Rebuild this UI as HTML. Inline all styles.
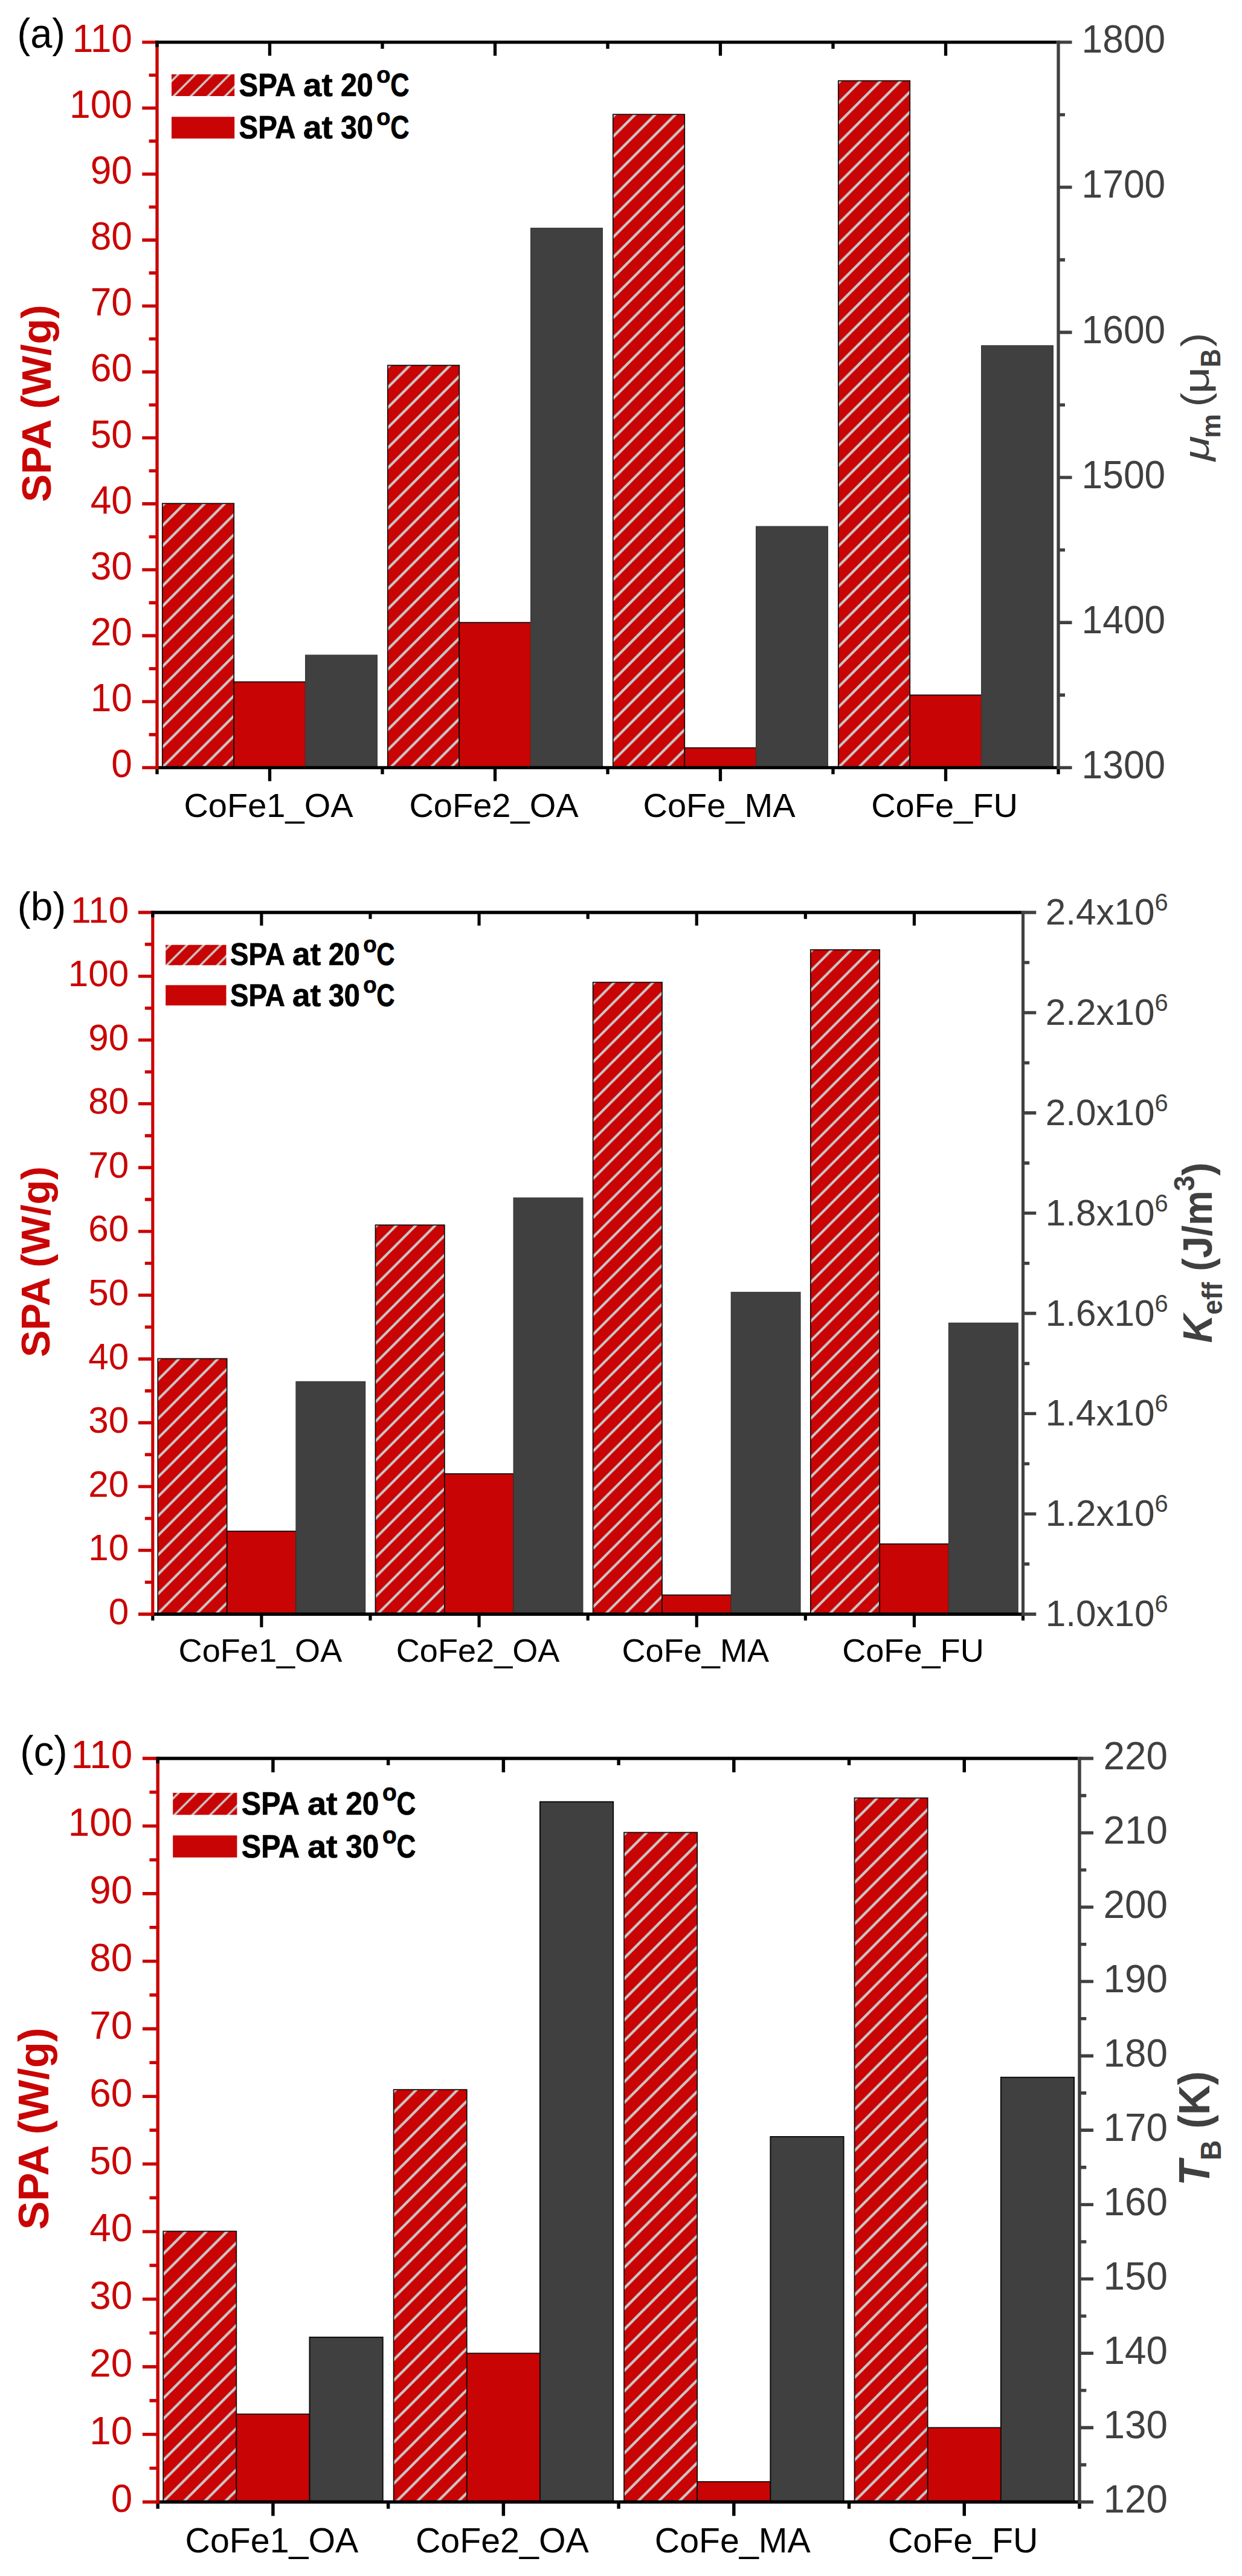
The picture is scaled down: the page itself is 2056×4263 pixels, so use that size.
<!DOCTYPE html>
<html lang="en"><head><meta charset="utf-8"><title>SPA bar charts</title><style>html,body{margin:0;padding:0;background:#fff}svg{display:block}</style></head><body>
<svg width="2056" height="4263" viewBox="0 0 2056 4263">
<rect width="2056" height="4263" fill="#fff"/>
<defs><pattern id="h1_0" patternUnits="userSpaceOnUse" x="5.58" y="0" width="33.33" height="33.33"><rect width="33.33" height="33.33" fill="#C90404"/><path d="M-33.33 33.33L33.33 -33.33M0 66.66L66.66 0M-16.66 49.99L49.99 -16.66" stroke="#C9C9C9" stroke-width="4.2" fill="none"/></pattern></defs>
<rect x="268.77" y="833.21" width="118.49" height="437.09" fill="url(#h1_0)" stroke="#0a0a0a" stroke-width="1.7"/>
<rect x="387.26" y="1128.42" width="118.49" height="141.88" fill="#C90404" stroke="#0a0a0a" stroke-width="1.7"/>
<rect x="505.74" y="1084.2" width="118.49" height="186.1" fill="#404040" stroke="#3c3c3c" stroke-width="1.5"/>
<defs><pattern id="h1_1" patternUnits="userSpaceOnUse" x="16.62" y="0" width="33.33" height="33.33"><rect width="33.33" height="33.33" fill="#C90404"/><path d="M-33.33 33.33L33.33 -33.33M0 66.66L66.66 0M-16.66 49.99L49.99 -16.66" stroke="#C9C9C9" stroke-width="4.2" fill="none"/></pattern></defs>
<rect x="641.77" y="604.57" width="118.49" height="665.73" fill="url(#h1_1)" stroke="#0a0a0a" stroke-width="1.7"/>
<rect x="760.26" y="1030.2" width="118.49" height="240.1" fill="#C90404" stroke="#0a0a0a" stroke-width="1.7"/>
<rect x="878.74" y="377.6" width="118.49" height="892.7" fill="#404040" stroke="#3c3c3c" stroke-width="1.5"/>
<defs><pattern id="h1_2" patternUnits="userSpaceOnUse" x="7.69" y="0" width="33.33" height="33.33"><rect width="33.33" height="33.33" fill="#C90404"/><path d="M-33.33 33.33L33.33 -33.33M0 66.66L66.66 0M-16.66 49.99L49.99 -16.66" stroke="#C9C9C9" stroke-width="4.2" fill="none"/></pattern></defs>
<rect x="1014.77" y="189.3" width="118.49" height="1081" fill="url(#h1_2)" stroke="#0a0a0a" stroke-width="1.7"/>
<rect x="1133.26" y="1237.56" width="118.49" height="32.74" fill="#C90404" stroke="#0a0a0a" stroke-width="1.7"/>
<rect x="1251.74" y="871.3" width="118.49" height="399" fill="#404040" stroke="#3c3c3c" stroke-width="1.5"/>
<defs><pattern id="h1_3" patternUnits="userSpaceOnUse" x="25.06" y="0" width="33.33" height="33.33"><rect width="33.33" height="33.33" fill="#C90404"/><path d="M-33.33 33.33L33.33 -33.33M0 66.66L66.66 0M-16.66 49.99L49.99 -16.66" stroke="#C9C9C9" stroke-width="4.2" fill="none"/></pattern></defs>
<rect x="1387.77" y="133.64" width="118.49" height="1136.66" fill="url(#h1_3)" stroke="#0a0a0a" stroke-width="1.7"/>
<rect x="1506.26" y="1150.25" width="118.49" height="120.05" fill="#C90404" stroke="#0a0a0a" stroke-width="1.7"/>
<rect x="1624.74" y="572" width="118.49" height="698.3" fill="#404040" stroke="#3c3c3c" stroke-width="1.5"/>
<g stroke="#000" fill="none">
<path stroke-width="5.35" d="M257.35 69.8H1749.35M257.35 1270.3H1754.65"/>
<path stroke-width="5.3" d="M260 1270.3V1281.3M446.5 69.8V92.3M446.5 1270.3V1292.8M633 69.8V80.8M633 1270.3V1281.3M819.5 69.8V92.3M819.5 1270.3V1292.8M1006 69.8V80.8M1006 1270.3V1281.3M1192.5 69.8V92.3M1192.5 1270.3V1292.8M1379 69.8V80.8M1379 1270.3V1281.3M1565.5 69.8V92.3M1565.5 1270.3V1292.8M1752 1270.3V1281.3"/></g>
<g stroke="#C90404" fill="none">
<path stroke-width="5.3" d="M260 67.12V1272.97"/>
<path stroke-width="5.35" d="M235.3 1270.3H260M246.6 1215.73H260M235.3 1161.16H260M246.6 1106.6H260M235.3 1052.03H260M246.6 997.46H260M235.3 942.89H260M246.6 888.32H260M235.3 833.75H260M246.6 779.19H260M235.3 724.62H260M246.6 670.05H260M235.3 615.48H260M246.6 560.91H260M235.3 506.35H260M246.6 451.78H260M235.3 397.21H260M246.6 342.64H260M235.3 288.07H260M246.6 233.5H260M235.3 178.94H260M246.6 124.37H260M235.3 69.8H260"/></g>
<rect x="257.35" y="67.12" width="5.3" height="10.85" fill="#000"/>
<g stroke="#404040" fill="none">
<path stroke-width="5.3" d="M1752 67.12V1272.97"/>
<path stroke-width="5.35" d="M1752 1270.3H1774.5M1752 1150.25H1763M1752 1030.2H1774.5M1752 910.15H1763M1752 790.1H1774.5M1752 670.05H1763M1752 550H1774.5M1752 429.95H1763M1752 309.9H1774.5M1752 189.85H1763M1752 69.8H1774.5"/></g>
<g font-family="'Liberation Sans', Arial, sans-serif" font-size="62.3" fill="#C90404" text-anchor="end">
<text transform="translate(219 1286.3) scale(1 1.03)">0</text>
<text transform="translate(219 1177.16) scale(1 1.03)">10</text>
<text transform="translate(219 1068.03) scale(1 1.03)">20</text>
<text transform="translate(219 958.89) scale(1 1.03)">30</text>
<text transform="translate(219 849.75) scale(1 1.03)">40</text>
<text transform="translate(219 740.62) scale(1 1.03)">50</text>
<text transform="translate(219 631.48) scale(1 1.03)">60</text>
<text transform="translate(219 522.35) scale(1 1.03)">70</text>
<text transform="translate(219 413.21) scale(1 1.03)">80</text>
<text transform="translate(219 304.07) scale(1 1.03)">90</text>
<text transform="translate(219 194.94) scale(1 1.03)">100</text>
<text transform="translate(219 85.8) scale(1 1.03)">110</text>
</g>
<g font-family="'Liberation Sans', Arial, sans-serif" font-size="62.3" fill="#404040">
<text transform="translate(1790.6 1287.8) scale(1 1.03)">1300</text>
<text transform="translate(1790.6 1047.7) scale(1 1.03)">1400</text>
<text transform="translate(1790.6 807.6) scale(1 1.03)">1500</text>
<text transform="translate(1790.6 567.5) scale(1 1.03)">1600</text>
<text transform="translate(1790.6 327.4) scale(1 1.03)">1700</text>
<text transform="translate(1790.6 87.3) scale(1 1.03)">1800</text>
</g>
<g font-family="'Liberation Sans', Arial, sans-serif" font-size="56" fill="#000" text-anchor="middle">
<text x="444.5" y="1352">CoFe1_OA</text>
<text x="817.5" y="1352">CoFe2_OA</text>
<text x="1190.5" y="1352">CoFe_MA</text>
<text x="1563.5" y="1352">CoFe_FU</text>
</g>
<text transform="translate(83.5 667.55) rotate(-90)" font-family="'Liberation Sans', Arial, sans-serif" font-weight="bold" font-size="69.2" fill="#C90404" text-anchor="middle">SPA (W/g)</text>
<g transform="translate(2001 765) rotate(-90)" font-family="'Liberation Sans', Arial, sans-serif" fill="#404040"><text transform="translate(1.9 0) scale(1.27 1)" font-size="60" font-weight="normal" font-style="italic">μ</text><text transform="translate(39.9 18.8) scale(1 1)" font-size="45" font-weight="bold" font-style="normal">m</text><text transform="translate(91.8 0) scale(1.1 1)" font-size="64" font-weight="normal" font-style="normal">(</text><text transform="translate(113.3 0) scale(1.3 1)" font-size="60" font-weight="normal" font-style="normal">μ</text><text transform="translate(157.3 18.8) scale(0.92 1)" font-size="46" font-weight="bold" font-style="normal">B</text><text transform="translate(191.1 0) scale(1.08 1)" font-size="64" font-weight="normal" font-style="normal">)</text></g>
<text transform="translate(28.6 78.9) scale(0.952 1)" font-family="'Liberation Sans', Arial, sans-serif" font-size="68.2" fill="#000">(a)</text>
<defs><pattern id="lg1" patternUnits="userSpaceOnUse" x="20.6" y="0" width="28.4" height="28.4"><rect width="28.4" height="28.4" fill="#C90404"/><path d="M-28.4 28.4L28.4 -28.4M0 56.8L56.8 0M-14.2 42.6L42.6 -14.2" stroke="#C9C9C9" stroke-width="3.4" fill="none"/></pattern></defs>
<rect x="284" y="123" width="104.2" height="36" fill="url(#lg1)"/>
<rect x="284" y="193.3" width="104.2" height="36" fill="#C90404"/>
<g font-family="'Liberation Sans', Arial, sans-serif" font-weight="bold" fill="#000" stroke="#000" stroke-width="0.7">
<text transform="translate(395.5 159) scale(0.93 1.04)" font-size="51">SPA</text>
<text transform="translate(502.1 159) scale(1.073 1.04)" font-size="51">at</text>
<text transform="translate(563.9 159) scale(0.95 1.04)" font-size="51">20</text>
<text transform="translate(623.3 137) scale(1.0 1.04)" font-size="38">o</text>
<text transform="translate(646.2 159) scale(0.85 1.04)" font-size="51">C</text>
</g>
<g font-family="'Liberation Sans', Arial, sans-serif" font-weight="bold" fill="#000" stroke="#000" stroke-width="0.7">
<text transform="translate(395.5 229.3) scale(0.93 1.04)" font-size="51">SPA</text>
<text transform="translate(502.1 229.3) scale(1.073 1.04)" font-size="51">at</text>
<text transform="translate(563.9 229.3) scale(0.95 1.04)" font-size="51">30</text>
<text transform="translate(623.3 207.3) scale(1.0 1.04)" font-size="38">o</text>
<text transform="translate(646.2 229.3) scale(0.85 1.04)" font-size="51">C</text>
</g>
<defs><pattern id="h2_0" patternUnits="userSpaceOnUse" x="0.42" y="0" width="32.21" height="32.21"><rect width="32.21" height="32.21" fill="#C90404"/><path d="M-32.21 32.21L32.21 -32.21M0 64.43L64.43 0M-16.11 48.32L48.32 -16.11" stroke="#C9C9C9" stroke-width="4.06" fill="none"/></pattern></defs>
<rect x="261.26" y="2248.42" width="114.42" height="422.78" fill="url(#h2_0)" stroke="#0a0a0a" stroke-width="1.7"/>
<rect x="375.68" y="2533.97" width="114.42" height="137.23" fill="#C90404" stroke="#0a0a0a" stroke-width="1.7"/>
<rect x="490.1" y="2286.5" width="114.42" height="384.7" fill="#404040" stroke="#3c3c3c" stroke-width="1.5"/>
<defs><pattern id="h2_1" patternUnits="userSpaceOnUse" x="10.58" y="0" width="32.21" height="32.21"><rect width="32.21" height="32.21" fill="#C90404"/><path d="M-32.21 32.21L32.21 -32.21M0 64.43L64.43 0M-16.11 48.32L48.32 -16.11" stroke="#C9C9C9" stroke-width="4.06" fill="none"/></pattern></defs>
<rect x="621.44" y="2027.26" width="114.42" height="643.94" fill="url(#h2_1)" stroke="#0a0a0a" stroke-width="1.7"/>
<rect x="735.85" y="2438.96" width="114.42" height="232.24" fill="#C90404" stroke="#0a0a0a" stroke-width="1.7"/>
<rect x="850.27" y="1982.4" width="114.42" height="688.8" fill="#404040" stroke="#3c3c3c" stroke-width="1.5"/>
<defs><pattern id="h2_2" patternUnits="userSpaceOnUse" x="1.3" y="0" width="32.21" height="32.21"><rect width="32.21" height="32.21" fill="#C90404"/><path d="M-32.21 32.21L32.21 -32.21M0 64.43L64.43 0M-16.11 48.32L48.32 -16.11" stroke="#C9C9C9" stroke-width="4.06" fill="none"/></pattern></defs>
<rect x="981.61" y="1625.59" width="114.42" height="1045.61" fill="url(#h2_2)" stroke="#0a0a0a" stroke-width="1.7"/>
<rect x="1096.03" y="2639.53" width="114.42" height="31.67" fill="#C90404" stroke="#0a0a0a" stroke-width="1.7"/>
<rect x="1210.45" y="2138.6" width="114.42" height="532.6" fill="#404040" stroke="#3c3c3c" stroke-width="1.5"/>
<defs><pattern id="h2_3" patternUnits="userSpaceOnUse" x="17.72" y="0" width="32.21" height="32.21"><rect width="32.21" height="32.21" fill="#C90404"/><path d="M-32.21 32.21L32.21 -32.21M0 64.43L64.43 0M-16.11 48.32L48.32 -16.11" stroke="#C9C9C9" stroke-width="4.06" fill="none"/></pattern></defs>
<rect x="1341.79" y="1571.75" width="114.42" height="1099.45" fill="url(#h2_3)" stroke="#0a0a0a" stroke-width="1.7"/>
<rect x="1456.2" y="2555.08" width="114.42" height="116.12" fill="#C90404" stroke="#0a0a0a" stroke-width="1.7"/>
<rect x="1570.62" y="2189.5" width="114.42" height="481.7" fill="#404040" stroke="#3c3c3c" stroke-width="1.5"/>
<g stroke="#000" fill="none">
<path stroke-width="5.35" d="M250.24 1510H1690.94M250.24 2671.2H1696.06"/>
<path stroke-width="5.12" d="M252.8 2671.2V2681.83M432.89 1510V1531.75M432.89 2671.2V2692.95M612.98 1510V1520.63M612.98 2671.2V2681.83M793.06 1510V1531.75M793.06 2671.2V2692.95M973.15 1510V1520.63M973.15 2671.2V2681.83M1153.24 1510V1531.75M1153.24 2671.2V2692.95M1333.33 1510V1520.63M1333.33 2671.2V2681.83M1513.41 1510V1531.75M1513.41 2671.2V2692.95M1693.5 2671.2V2681.83"/></g>
<g stroke="#C90404" fill="none">
<path stroke-width="5.12" d="M252.8 1507.33V2673.88"/>
<path stroke-width="5.35" d="M228.93 2671.2H252.8M239.85 2618.42H252.8M228.93 2565.64H252.8M239.85 2512.85H252.8M228.93 2460.07H252.8M239.85 2407.29H252.8M228.93 2354.51H252.8M239.85 2301.73H252.8M228.93 2248.95H252.8M239.85 2196.16H252.8M228.93 2143.38H252.8M239.85 2090.6H252.8M228.93 2037.82H252.8M239.85 1985.04H252.8M228.93 1932.25H252.8M239.85 1879.47H252.8M228.93 1826.69H252.8M239.85 1773.91H252.8M228.93 1721.13H252.8M239.85 1668.35H252.8M228.93 1615.56H252.8M239.85 1562.78H252.8M228.93 1510H252.8"/></g>
<rect x="250.24" y="1507.33" width="5.12" height="10.67" fill="#000"/>
<g stroke="#404040" fill="none">
<path stroke-width="5.12" d="M1693.5 1507.33V2673.88"/>
<path stroke-width="5.35" d="M1693.5 2671.2H1715.25M1693.5 2588.26H1704.13M1693.5 2505.31H1715.25M1693.5 2422.37H1704.13M1693.5 2339.43H1715.25M1693.5 2256.49H1704.13M1693.5 2173.54H1715.25M1693.5 2090.6H1704.13M1693.5 2007.66H1715.25M1693.5 1924.71H1704.13M1693.5 1841.77H1715.25M1693.5 1758.83H1704.13M1693.5 1675.89H1715.25M1693.5 1592.94H1704.13M1693.5 1510H1715.25"/></g>
<g font-family="'Liberation Sans', Arial, sans-serif" font-size="60.21" fill="#C90404" text-anchor="end">
<text transform="translate(213.17 2687.86) scale(1 1.03)">0</text>
<text transform="translate(213.17 2582.3) scale(1 1.03)">10</text>
<text transform="translate(213.17 2476.74) scale(1 1.03)">20</text>
<text transform="translate(213.17 2371.17) scale(1 1.03)">30</text>
<text transform="translate(213.17 2265.61) scale(1 1.03)">40</text>
<text transform="translate(213.17 2160.05) scale(1 1.03)">50</text>
<text transform="translate(213.17 2054.48) scale(1 1.03)">60</text>
<text transform="translate(213.17 1948.92) scale(1 1.03)">70</text>
<text transform="translate(213.17 1843.35) scale(1 1.03)">80</text>
<text transform="translate(213.17 1737.79) scale(1 1.03)">90</text>
<text transform="translate(213.17 1632.23) scale(1 1.03)">100</text>
<text transform="translate(213.17 1526.66) scale(1 1.03)">110</text>
</g>
<g font-family="'Liberation Sans', Arial, sans-serif" font-size="60.21" fill="#404040">
<text transform="translate(1730.81 2691.2) scale(1 1.03)">1.0x10<tspan font-size="39.74" dy="-22.28">6</tspan></text>
<text transform="translate(1730.81 2525.31) scale(1 1.03)">1.2x10<tspan font-size="39.74" dy="-22.28">6</tspan></text>
<text transform="translate(1730.81 2359.43) scale(1 1.03)">1.4x10<tspan font-size="39.74" dy="-22.28">6</tspan></text>
<text transform="translate(1730.81 2193.54) scale(1 1.03)">1.6x10<tspan font-size="39.74" dy="-22.28">6</tspan></text>
<text transform="translate(1730.81 2027.66) scale(1 1.03)">1.8x10<tspan font-size="39.74" dy="-22.28">6</tspan></text>
<text transform="translate(1730.81 1861.77) scale(1 1.03)">2.0x10<tspan font-size="39.74" dy="-22.28">6</tspan></text>
<text transform="translate(1730.81 1695.89) scale(1 1.03)">2.2x10<tspan font-size="39.74" dy="-22.28">6</tspan></text>
<text transform="translate(1730.81 1530) scale(1 1.03)">2.4x10<tspan font-size="39.74" dy="-22.28">6</tspan></text>
</g>
<g font-family="'Liberation Sans', Arial, sans-serif" font-size="54.12" fill="#000" text-anchor="middle">
<text x="430.95" y="2750.16">CoFe1_OA</text>
<text x="791.13" y="2750.16">CoFe2_OA</text>
<text x="1151.3" y="2750.16">CoFe_MA</text>
<text x="1511.48" y="2750.16">CoFe_FU</text>
</g>
<text transform="translate(82.21 2088.18) rotate(-90)" font-family="'Liberation Sans', Arial, sans-serif" font-weight="bold" font-size="66.88" fill="#C90404" text-anchor="middle">SPA (W/g)</text>
<g transform="translate(2005.5 2222.5) rotate(-90) scale(1 1.04)" font-family="'Liberation Sans', Arial, sans-serif" fill="#404040" font-size="65" font-weight="bold"><text x="0" y="0"><tspan font-style="italic">K</tspan><tspan font-size="44" dy="17">eff</tspan><tspan dy="-17"> (J/m</tspan><tspan font-size="46" dy="-27" dx="-1">3</tspan><tspan dy="27">)</tspan></text></g>
<text transform="translate(28.7 1522.5) scale(1.0 1)" font-family="'Liberation Sans', Arial, sans-serif" font-size="65.9" fill="#000">(b)</text>
<defs><pattern id="lg2" patternUnits="userSpaceOnUse" x="4" y="0" width="27.9" height="27.9"><rect width="27.9" height="27.9" fill="#C90404"/><path d="M-27.9 27.9L27.9 -27.9M0 55.8L55.8 0M-13.95 41.85L41.85 -13.95" stroke="#C9C9C9" stroke-width="3.4" fill="none"/></pattern></defs>
<rect x="274.2" y="1563.7" width="100.3" height="33.6" fill="url(#lg2)"/>
<rect x="274.2" y="1630.3" width="100.3" height="33.6" fill="#C90404"/>
<g font-family="'Liberation Sans', Arial, sans-serif" font-weight="bold" fill="#000" stroke="#000" stroke-width="0.7">
<text transform="translate(380.95 1597) scale(0.93 1.04)" font-size="49.3">SPA</text>
<text transform="translate(484 1597) scale(1.073 1.04)" font-size="49.3">at</text>
<text transform="translate(543.74 1597) scale(0.95 1.04)" font-size="49.3">20</text>
<text transform="translate(601.16 1575.73) scale(1.0 1.04)" font-size="36.73">o</text>
<text transform="translate(623.29 1597) scale(0.85 1.04)" font-size="49.3">C</text>
</g>
<g font-family="'Liberation Sans', Arial, sans-serif" font-weight="bold" fill="#000" stroke="#000" stroke-width="0.7">
<text transform="translate(380.95 1664.5) scale(0.93 1.04)" font-size="49.3">SPA</text>
<text transform="translate(484 1664.5) scale(1.073 1.04)" font-size="49.3">at</text>
<text transform="translate(543.74 1664.5) scale(0.95 1.04)" font-size="49.3">30</text>
<text transform="translate(601.16 1643.23) scale(1.0 1.04)" font-size="36.73">o</text>
<text transform="translate(623.29 1664.5) scale(0.85 1.04)" font-size="49.3">C</text>
</g>
<defs><pattern id="h3_0" patternUnits="userSpaceOnUse" x="7.16" y="0" width="34.13" height="34.13"><rect width="34.13" height="34.13" fill="#C90404"/><path d="M-34.13 34.13L34.13 -34.13M0 68.26L68.26 0M-17.06 51.19L51.19 -17.06" stroke="#C9C9C9" stroke-width="4.3" fill="none"/></pattern></defs>
<rect x="270.16" y="3692.49" width="121.17" height="448.01" fill="url(#h3_0)" stroke="#0a0a0a" stroke-width="1.7"/>
<rect x="391.34" y="3995.08" width="121.17" height="145.42" fill="#C90404" stroke="#0a0a0a" stroke-width="1.7"/>
<rect x="512.51" y="3867.9" width="121.17" height="272.6" fill="#404040" stroke="#0d0d0d" stroke-width="2.0"/>
<defs><pattern id="h3_1" patternUnits="userSpaceOnUse" x="17.74" y="0" width="34.13" height="34.13"><rect width="34.13" height="34.13" fill="#C90404"/><path d="M-34.13 34.13L34.13 -34.13M0 68.26L68.26 0M-17.06 51.19L51.19 -17.06" stroke="#C9C9C9" stroke-width="4.3" fill="none"/></pattern></defs>
<rect x="651.61" y="3458.13" width="121.17" height="682.37" fill="url(#h3_1)" stroke="#0a0a0a" stroke-width="1.7"/>
<rect x="772.79" y="3894.4" width="121.17" height="246.1" fill="#C90404" stroke="#0a0a0a" stroke-width="1.7"/>
<rect x="893.96" y="2981.8" width="121.17" height="1158.7" fill="#404040" stroke="#0d0d0d" stroke-width="2.0"/>
<defs><pattern id="h3_2" patternUnits="userSpaceOnUse" x="7.68" y="0" width="34.13" height="34.13"><rect width="34.13" height="34.13" fill="#C90404"/><path d="M-34.13 34.13L34.13 -34.13M0 68.26L68.26 0M-17.06 51.19L51.19 -17.06" stroke="#C9C9C9" stroke-width="4.3" fill="none"/></pattern></defs>
<rect x="1033.06" y="3032.49" width="121.17" height="1108.01" fill="url(#h3_2)" stroke="#0a0a0a" stroke-width="1.7"/>
<rect x="1154.24" y="4106.94" width="121.17" height="33.56" fill="#C90404" stroke="#0a0a0a" stroke-width="1.7"/>
<rect x="1275.41" y="3536" width="121.17" height="604.5" fill="#404040" stroke="#0d0d0d" stroke-width="2.0"/>
<defs><pattern id="h3_3" patternUnits="userSpaceOnUse" x="24.91" y="0" width="34.13" height="34.13"><rect width="34.13" height="34.13" fill="#C90404"/><path d="M-34.13 34.13L34.13 -34.13M0 68.26L68.26 0M-17.06 51.19L51.19 -17.06" stroke="#C9C9C9" stroke-width="4.3" fill="none"/></pattern></defs>
<rect x="1414.51" y="2975.44" width="121.17" height="1165.06" fill="url(#h3_3)" stroke="#0a0a0a" stroke-width="1.7"/>
<rect x="1535.69" y="4017.45" width="121.17" height="123.05" fill="#C90404" stroke="#0a0a0a" stroke-width="1.7"/>
<rect x="1656.86" y="3437.8" width="121.17" height="702.7" fill="#404040" stroke="#0d0d0d" stroke-width="2.0"/>
<g stroke="#000" fill="none">
<path stroke-width="5.35" d="M258.49 2910H1784.29M258.49 4140.5H1789.71"/>
<path stroke-width="5.43" d="M261.2 4140.5V4151.76M451.92 2910V2933.04M451.92 4140.5V4163.54M642.65 2910V2921.26M642.65 4140.5V4151.76M833.38 2910V2933.04M833.38 4140.5V4163.54M1024.1 2910V2921.26M1024.1 4140.5V4151.76M1214.83 2910V2933.04M1214.83 4140.5V4163.54M1405.55 2910V2921.26M1405.55 4140.5V4151.76M1596.28 2910V2933.04M1596.28 4140.5V4163.54M1787 4140.5V4151.76"/></g>
<g stroke="#C90404" fill="none">
<path stroke-width="5.43" d="M261.2 2907.32V4143.18"/>
<path stroke-width="5.35" d="M235.91 4140.5H261.2M247.48 4084.57H261.2M235.91 4028.64H261.2M247.48 3972.7H261.2M235.91 3916.77H261.2M247.48 3860.84H261.2M235.91 3804.91H261.2M247.48 3748.98H261.2M235.91 3693.05H261.2M247.48 3637.11H261.2M235.91 3581.18H261.2M247.48 3525.25H261.2M235.91 3469.32H261.2M247.48 3413.39H261.2M235.91 3357.45H261.2M247.48 3301.52H261.2M235.91 3245.59H261.2M247.48 3189.66H261.2M235.91 3133.73H261.2M247.48 3077.8H261.2M235.91 3021.86H261.2M247.48 2965.93H261.2M235.91 2910H261.2"/></g>
<rect x="258.49" y="2907.32" width="5.43" height="10.98" fill="#000"/>
<g stroke="#404040" fill="none">
<path stroke-width="5.43" d="M1787 2907.32V4143.18"/>
<path stroke-width="5.35" d="M1787 4140.5H1810.04M1787 4078.97H1798.26M1787 4017.45H1810.04M1787 3955.93H1798.26M1787 3894.4H1810.04M1787 3832.88H1798.26M1787 3771.35H1810.04M1787 3709.82H1798.26M1787 3648.3H1810.04M1787 3586.78H1798.26M1787 3525.25H1810.04M1787 3463.72H1798.26M1787 3402.2H1810.04M1787 3340.68H1798.26M1787 3279.15H1810.04M1787 3217.62H1798.26M1787 3156.1H1810.04M1787 3094.57H1798.26M1787 3033.05H1810.04M1787 2971.53H1798.26M1787 2910H1810.04"/></g>
<g font-family="'Liberation Sans', Arial, sans-serif" font-size="63.8" fill="#C90404" text-anchor="end">
<text transform="translate(219.22 4156.88) scale(1 1.03)">0</text>
<text transform="translate(219.22 4045.02) scale(1 1.03)">10</text>
<text transform="translate(219.22 3933.16) scale(1 1.03)">20</text>
<text transform="translate(219.22 3821.29) scale(1 1.03)">30</text>
<text transform="translate(219.22 3709.43) scale(1 1.03)">40</text>
<text transform="translate(219.22 3597.57) scale(1 1.03)">50</text>
<text transform="translate(219.22 3485.7) scale(1 1.03)">60</text>
<text transform="translate(219.22 3373.84) scale(1 1.03)">70</text>
<text transform="translate(219.22 3261.97) scale(1 1.03)">80</text>
<text transform="translate(219.22 3150.11) scale(1 1.03)">90</text>
<text transform="translate(219.22 3038.25) scale(1 1.03)">100</text>
<text transform="translate(219.22 2926.38) scale(1 1.03)">110</text>
</g>
<g font-family="'Liberation Sans', Arial, sans-serif" font-size="63.8" fill="#404040">
<text transform="translate(1826.53 4158.42) scale(1 1.03)">120</text>
<text transform="translate(1826.53 4035.37) scale(1 1.03)">130</text>
<text transform="translate(1826.53 3912.32) scale(1 1.03)">140</text>
<text transform="translate(1826.53 3789.27) scale(1 1.03)">150</text>
<text transform="translate(1826.53 3666.22) scale(1 1.03)">160</text>
<text transform="translate(1826.53 3543.17) scale(1 1.03)">170</text>
<text transform="translate(1826.53 3420.12) scale(1 1.03)">180</text>
<text transform="translate(1826.53 3297.07) scale(1 1.03)">190</text>
<text transform="translate(1826.53 3174.02) scale(1 1.03)">200</text>
<text transform="translate(1826.53 3050.97) scale(1 1.03)">210</text>
<text transform="translate(1826.53 2927.92) scale(1 1.03)">220</text>
</g>
<g font-family="'Liberation Sans', Arial, sans-serif" font-size="57.34" fill="#000" text-anchor="middle">
<text x="449.88" y="4224.16">CoFe1_OA</text>
<text x="831.33" y="4224.16">CoFe2_OA</text>
<text x="1212.78" y="4224.16">CoFe_MA</text>
<text x="1594.23" y="4224.16">CoFe_FU</text>
</g>
<text transform="translate(80.46 3522.69) rotate(-90)" font-family="'Liberation Sans', Arial, sans-serif" font-weight="bold" font-size="70.86" fill="#C90404" text-anchor="middle">SPA (W/g)</text>
<g transform="translate(2002 3617) rotate(-90) scale(1 1.04)" font-family="'Liberation Sans', Arial, sans-serif" fill="#404040" font-size="68.6" font-weight="bold"><text x="0" y="0"><tspan font-style="italic">T</tspan><tspan font-size="46" dy="18">B</tspan><tspan dy="-18"> (K)</tspan></text></g>
<text transform="translate(33.3 2921.6) scale(0.963 1)" font-family="'Liberation Sans', Arial, sans-serif" font-size="69.8" fill="#000">(c)</text>
<defs><pattern id="lg3" patternUnits="userSpaceOnUse" x="6.7" y="0" width="29.6" height="29.6"><rect width="29.6" height="29.6" fill="#C90404"/><path d="M-29.6 29.6L29.6 -29.6M0 59.2L59.2 0M-14.8 44.4L44.4 -14.8" stroke="#C9C9C9" stroke-width="3.4" fill="none"/></pattern></defs>
<rect x="286.2" y="2966.9" width="106.2" height="36.5" fill="url(#lg3)"/>
<rect x="286.2" y="3037.4" width="106.2" height="36.5" fill="#C90404"/>
<g font-family="'Liberation Sans', Arial, sans-serif" font-weight="bold" fill="#000" stroke="#000" stroke-width="0.7">
<text transform="translate(399.84 3002.5) scale(0.93 1.04)" font-size="52.2">SPA</text>
<text transform="translate(508.94 3002.5) scale(1.073 1.04)" font-size="52.2">at</text>
<text transform="translate(572.2 3002.5) scale(0.95 1.04)" font-size="52.2">20</text>
<text transform="translate(633 2979.98) scale(1.0 1.04)" font-size="38.89">o</text>
<text transform="translate(656.43 3002.5) scale(0.85 1.04)" font-size="52.2">C</text>
</g>
<g font-family="'Liberation Sans', Arial, sans-serif" font-weight="bold" fill="#000" stroke="#000" stroke-width="0.7">
<text transform="translate(399.84 3073.8) scale(0.93 1.04)" font-size="52.2">SPA</text>
<text transform="translate(508.94 3073.8) scale(1.073 1.04)" font-size="52.2">at</text>
<text transform="translate(572.2 3073.8) scale(0.95 1.04)" font-size="52.2">30</text>
<text transform="translate(633 3051.28) scale(1.0 1.04)" font-size="38.89">o</text>
<text transform="translate(656.43 3073.8) scale(0.85 1.04)" font-size="52.2">C</text>
</g>
</svg></body></html>
